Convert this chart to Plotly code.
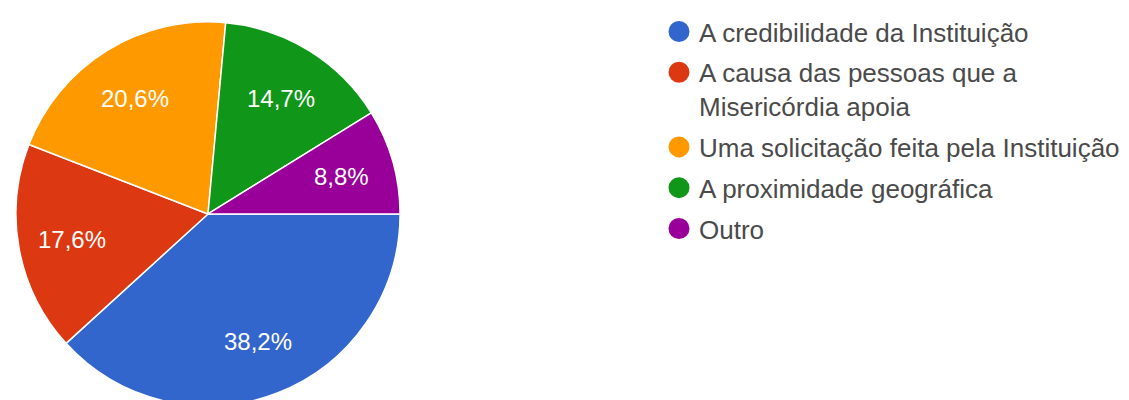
import math
import plotly.graph_objects as go

categories = [
    "A credibilidade da Instituição",
    "A causa das pessoas que a<br>Misericórdia apoia",
    "Uma solicitação feita pela Instituição",
    "A proximidade geográfica",
    "Outro",
]
responses = [13, 6, 7, 5, 3]
colors = ["#3366CC", "#DC3912", "#FF9900", "#109618", "#990099"]

W, H = 1129, 400
OFF = 8  # page body margin
cx, cy, R = 208 - OFF, 211 - OFF, 195
dom_x = [(cx - R) / W, (cx + R) / W]
dom_y = [1 - (cy + R) / H, 1 - (cy - R) / H]
LABEL_R = 0.71

fig = go.Figure()
fig.add_trace(go.Pie(
    labels=categories,
    values=responses,
    sort=False,
    direction="clockwise",
    rotation=90,
    marker=dict(colors=colors, line=dict(color="white", width=1.5)),
    textinfo="none",
    showlegend=False,
    hoverinfo="label+percent",
    domain=dict(x=dom_x, y=dom_y),
))

for i, (name, col) in enumerate(zip(categories, colors)):
    fig.add_trace(go.Scatter(
        x=[None], y=[None], mode="markers", name=name,
        legendgroup=str(i),
        marker=dict(symbol="circle", size=16, color=col,
                    line=dict(color=col, width=5)),
        showlegend=True,
    ))

# percentage labels, placed on a hidden unit axis that coincides with the pie
total = sum(responses)
cum = 0
for v in responses:
    frac = v / total
    mid = cum + frac / 2
    cum += frac
    ang = -mid * 2 * math.pi  # clockwise from 3 o'clock
    fig.add_annotation(
        x=LABEL_R * math.cos(ang), y=LABEL_R * math.sin(ang),
        xref="x", yref="y", showarrow=False,
        text=f"{frac * 100:.1f}%".replace(".", ","),
        font=dict(color="white", size=24, family="Liberation Sans, Arial"),
        xanchor="center", yanchor="middle",
    )

fig.update_layout(
    width=W, height=H,
    margin=dict(l=0, r=0, t=0, b=0),
    paper_bgcolor="white", plot_bgcolor="rgba(0,0,0,0)",
    separators=", ",
    xaxis=dict(visible=False, domain=dom_x, range=[-1, 1], fixedrange=True),
    yaxis=dict(visible=False, domain=dom_y, range=[-1, 1], fixedrange=True),
    legend=dict(
        x=(659 - OFF) / W, y=1 + 6 / H, xanchor="left", yanchor="top",
        font=dict(size=26, color="#4a4a4a", family="Liberation Sans, Arial"),
        itemclick=False, tracegroupgap=4, valign="top",
        bgcolor="rgba(0,0,0,0)", maxheight=400,
    ),
)

fig.write_html("out.html")
